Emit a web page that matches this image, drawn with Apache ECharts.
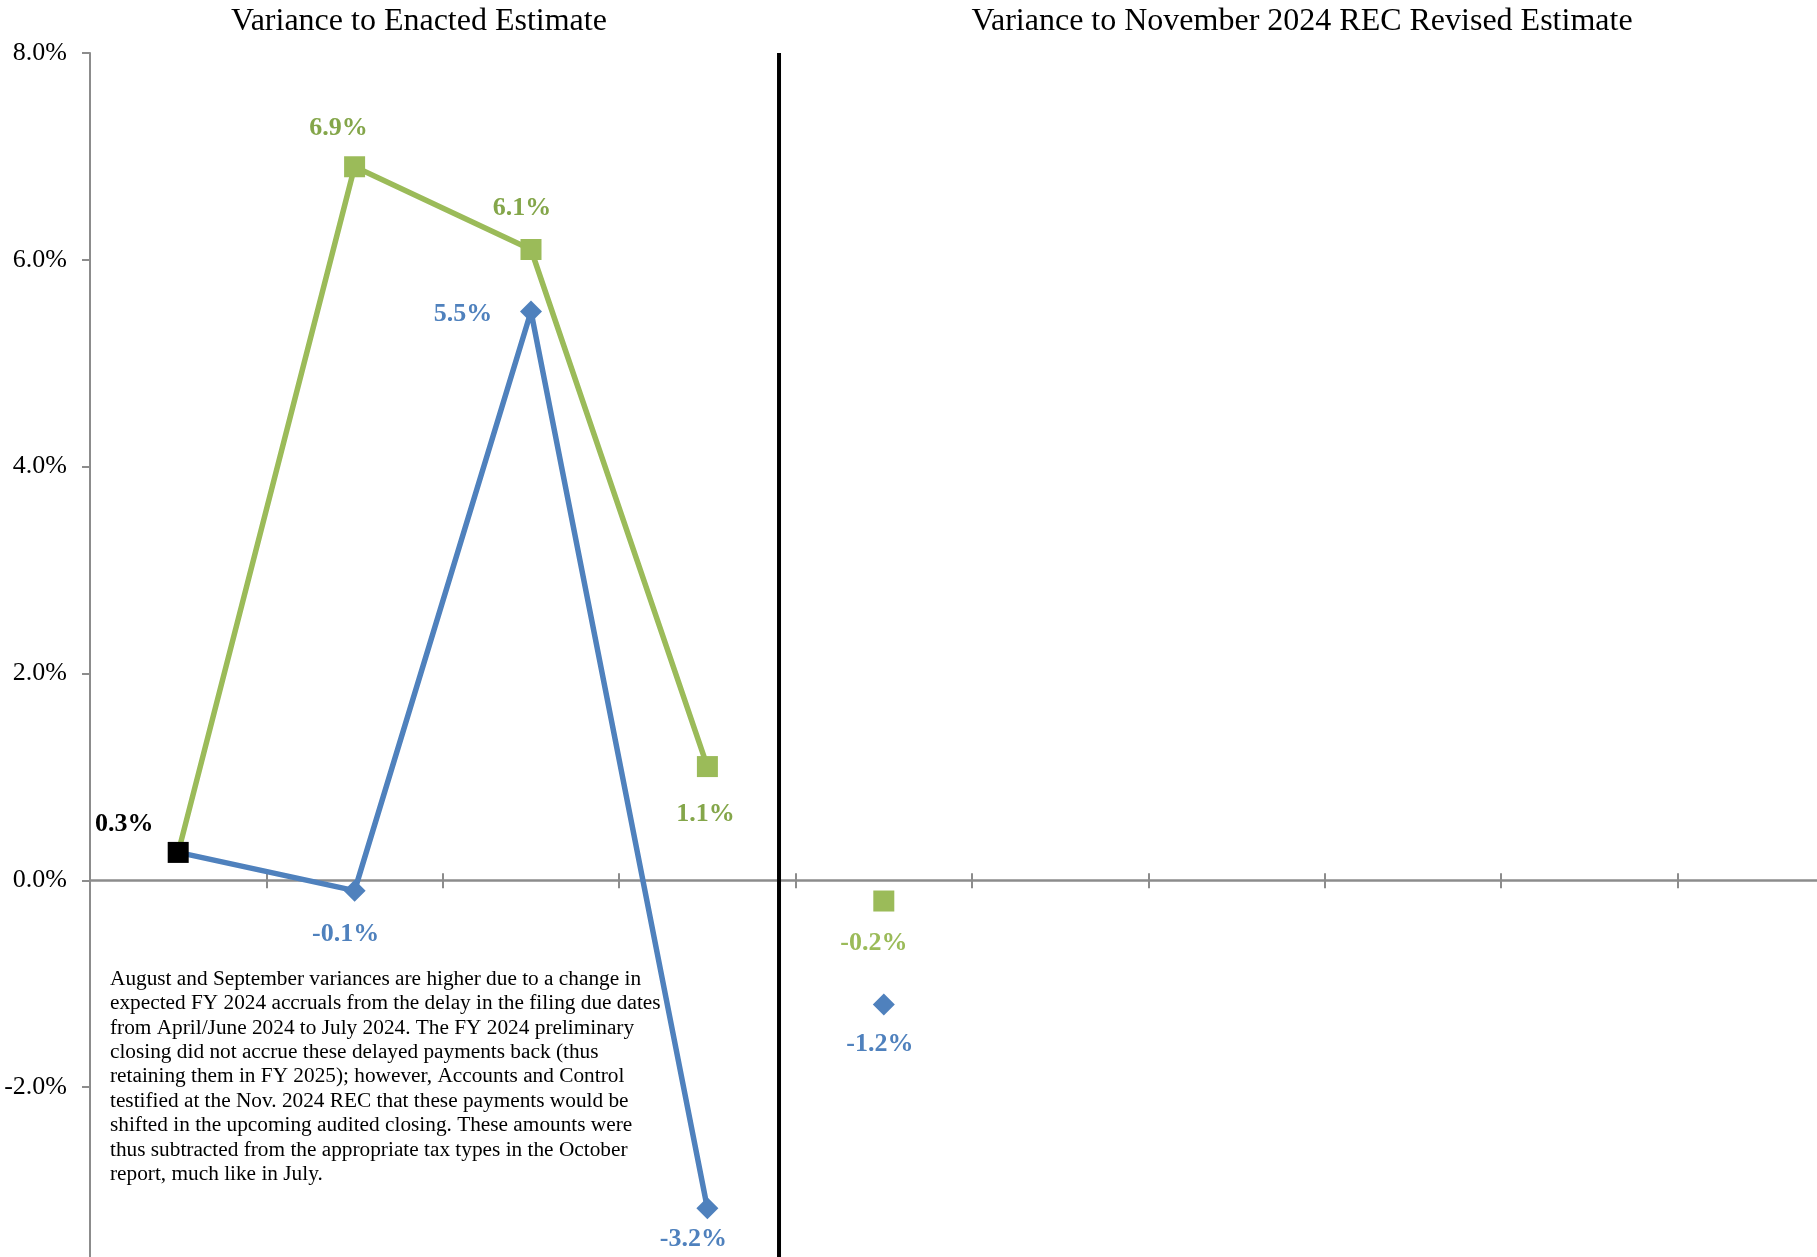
<!DOCTYPE html>
<html>
<head>
<meta charset="utf-8">
<script src="https://cdn.jsdelivr.net/npm/echarts@6/dist/echarts.min.js"></script>
<style>
  html, body { margin: 0; padding: 0; background: #fff; overflow: hidden; }
  /* the original picture is cropped 37px short of the plot's right and bottom edges */
  #chart { width: 1854px; height: 1294px; }
</style>
</head>
<body>
<div id="chart"></div>
<script>
// --- data ---
const months = ['Jul', 'Aug', 'Sep', 'Oct', 'Nov', 'Dec', 'Jan', 'Feb', 'Mar', 'Apr'];
const enactedGreen = [0.27, 6.9, 6.1, 1.1];
const enactedBlue = [0.27, -0.1, 5.5, -3.17];
const revisedGreen = [null, null, null, null, -0.2];
const revisedBlue = [null, null, null, null, -1.2];
const yMin = -4, yMax = 8, yStep = 2;

// label offsets from the marker centre (style only)
const greenLabelOff = [[-54, -28], [-16, -38], [-9, -41], [-2, 48]];
const blueLabelOff = [null, [-9, 44], [-68, 3], [-14, 31]];
const revGreenOff = [-10, 42];
const revBlueOff = [-4, 40];

const GREEN = '#9BBB59', GREEN_TXT = '#84A64A', BLUE = '#4F81BD';
const FONT = '"Liberation Serif", "Times New Roman", serif';

const pct = v => v.toFixed(1) + '%';
const lbl = (off, color) => ({
  show: true, position: 'inside', offset: off,
  color: color, fontFamily: FONT, fontWeight: 'bold', fontSize: 26,
  formatter: p => pct(p.value)
});

const greenData = enactedGreen.map((v, i) => {
  const item = { value: v, label: lbl(greenLabelOff[i], GREEN_TXT) };
  if (i === 0) { item.itemStyle = { color: '#000' }; item.label.color = '#000'; }
  return item;
});
const blueData = enactedBlue.map((v, i) => {
  if (!blueLabelOff[i]) return { value: v, symbolSize: 0, label: { show: false } };
  return { value: v, label: lbl(blueLabelOff[i], BLUE) };
});
const pointOnly = (arr, off, color) => arr.map(v => v == null ? null : { value: v, label: lbl(off, color) });

const note = [
  'August and September variances are higher due to a change in',
  'expected FY 2024 accruals from the delay in the filing due dates',
  'from April/June 2024 to July 2024. The FY 2024 preliminary',
  'closing did not accrue these delayed payments back (thus',
  'retaining them in FY 2025); however, Accounts and Control',
  'testified at the Nov. 2024 REC that these payments would be',
  'shifted in the upcoming audited closing. These amounts were',
  'thus subtracted from the appropriate tax types in the October',
  'report, much like in July.'
].join('\n');

const chart = echarts.init(document.getElementById('chart'));
const W = 1854;
const gridLeft = 90, gridTop = 53;
const catW = (W - gridLeft) / months.length;
const splitX = gridLeft + catW * 3.906;

chart.setOption({
  animation: false,
  backgroundColor: '#fff',
  grid: { left: gridLeft, top: gridTop, right: 0, bottom: 0, containLabel: false, outerBoundsMode: 'none' },
  xAxis: [{
    type: 'category', data: months, boundaryGap: true,
    axisLine: { onZero: true, lineStyle: { color: '#8c8c8c', width: 2.5 } },
    axisTick: { show: true, length: 8, inside: false, lineStyle: { color: '#8c8c8c', width: 2 } },
    axisLabel: { show: false }, splitLine: { show: false }
  }, {
    type: 'category', data: months, boundaryGap: true, position: 'top',
    axisLine: { show: false, onZero: true, onZeroAxisIndex: 0 },
    axisTick: { show: true, length: 7, inside: false, lineStyle: { color: '#8c8c8c', width: 2 } },
    axisLabel: { show: false }, splitLine: { show: false }
  }],
  yAxis: {
    type: 'value', min: yMin, max: yMax, interval: yStep,
    axisLine: { show: true, lineStyle: { color: '#8c8c8c', width: 2 } },
    axisTick: { show: true, length: 8, lineStyle: { color: '#8c8c8c', width: 2 } },
    axisLabel: { color: '#000', fontFamily: FONT, fontSize: 26, margin: 23, formatter: v => pct(v) },
    splitLine: { show: false }
  },
  series: [{
    name: 'Enacted (blue)', type: 'line', data: blueData,
    symbol: 'diamond', symbolSize: 22,
    lineStyle: { color: BLUE, width: 5.5 }, itemStyle: { color: BLUE }
  }, {
    name: 'Enacted (green)', type: 'line', data: greenData,
    symbol: 'rect', symbolSize: 21,
    lineStyle: { color: GREEN, width: 5.5 }, itemStyle: { color: GREEN }
  }, {
    name: 'Revised (green)', type: 'line', data: pointOnly(revisedGreen, revGreenOff, GREEN),
    symbol: 'rect', symbolSize: 21, connectNulls: false,
    lineStyle: { color: GREEN, width: 5.5 }, itemStyle: { color: GREEN }
  }, {
    name: 'Revised (blue)', type: 'line', data: pointOnly(revisedBlue, revBlueOff, BLUE),
    symbol: 'diamond', symbolSize: 22, connectNulls: false,
    lineStyle: { color: BLUE, width: 5.5 }, itemStyle: { color: BLUE }
  }],
  graphic: [{
    type: 'text', x: 419, y: 22,
    style: { text: 'Variance to Enacted Estimate', fill: '#000', font: '32px ' + FONT, textAlign: 'center', textVerticalAlign: 'middle' }
  }, {
    type: 'text', x: 1302, y: 22,
    style: { text: 'Variance to November 2024 REC Revised Estimate', fill: '#000', font: '32px ' + FONT, textAlign: 'center', textVerticalAlign: 'middle' }
  }, {
    type: 'line', z: 10,
    shape: { x1: splitX, y1: gridTop, x2: splitX, y2: 1294 },
    style: { stroke: '#000', lineWidth: 4 }
  }, {
    type: 'text', x: 110, y: 967,
    style: { text: note, fill: '#000', font: '21.3px ' + FONT, lineHeight: 24.4, textAlign: 'left', textVerticalAlign: 'top' }
  }]
});
</script>
</body>
</html>
